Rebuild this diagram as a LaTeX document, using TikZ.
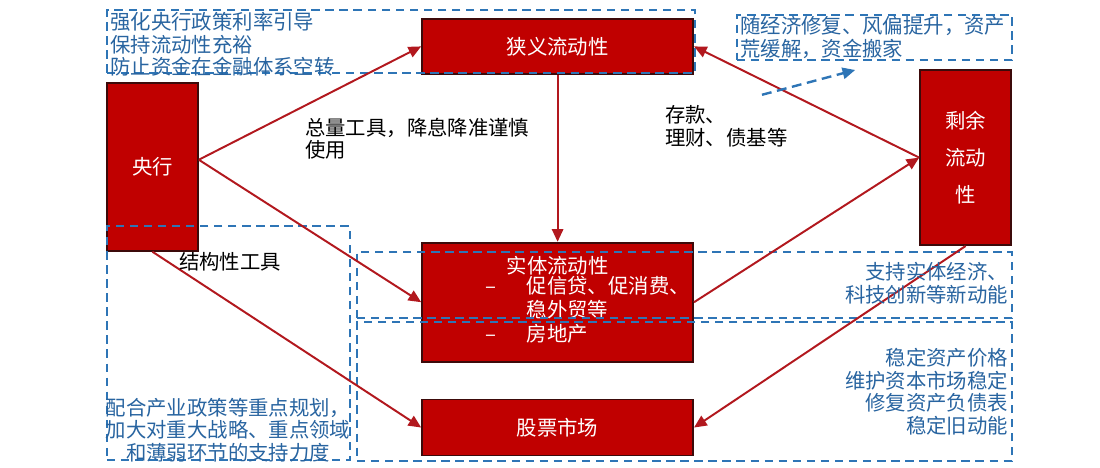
\documentclass[tikz,border=0pt]{standalone}
\usepackage{fontspec}
\setmainfont{Noto Sans CJK SC}
\usepackage{tikz}
\usetikzlibrary{arrows.meta, positioning, calc}
\usepackage{xcolor}
\definecolor{cbred}{RGB}{192,0,0}
\definecolor{cbedge}{RGB}{60,10,10}
\definecolor{cbarrow}{RGB}{178,24,30}
\definecolor{cbblue}{RGB}{46,117,182}
\definecolor{cbtext}{RGB}{40,100,160}

\begin{document}
\begin{tikzpicture}[
  font=\fontsize{14.5}{16}\selectfont,
  pool/.style={draw=cbedge, fill=cbred, text=white, line width=1.3pt,
               minimum width=6.775cm, align=center, inner sep=2pt},
  tallpool/.style={pool, minimum width=2.275cm},
  frame/.style={draw=cbblue, dash pattern=on 6pt off 4pt,
                line width=1.6pt, inner sep=0pt},
  note/.style={text=cbtext, inner sep=1pt},
  tag/.style={text=black, align=left, inner sep=0pt},
  flow/.style={-{Triangle[length=9pt,width=8pt]}, line width=1.4pt, cbarrow},
  hint/.style={-{Triangle[length=9pt,width=8pt]}, line width=1.7pt, cbblue,
               dash pattern=on 7pt off 4pt}
]
\useasboundingbox (0,0) rectangle (27.5,11.7);
% liquidity boxes
\node[pool, minimum height=1.375cm] (xy) at (13.94,10.54) {狭义流动性};
\node[pool, minimum height=2.975cm, below=4.175cm of xy] (st)
  {实体流动性\\
   \hspace*{1.5cm}\begin{tabular}{@{}l@{\hspace{1.5em}}l@{}}
     – & 促信贷、促消费、\\
       & 稳外贸等\\
     – & 房地产
   \end{tabular}};
\node[pool, minimum height=1.4cm, below=0.9cm of st] (gp) {股票市场};
\node[tallpool, minimum height=4.2cm] (yh) at (3.81,7.53) {央行};
\node[tallpool, minimum height=4.375cm, font=\fontsize{14.5}{26}\selectfont]
  (sy) at (24.14,7.76) {剩余\\流动\\性};
% dashed frames
\node[frame, minimum width=14.7cm, minimum height=1.575cm] (f1) at (10.025,10.66) {};
\node[frame, minimum width=6.875cm, minimum height=1.125cm] (f2) at (21.86,10.76) {};
\node[frame, minimum width=6.075cm, minimum height=5.85cm] (f3) at (5.71,3.125) {};
\node[frame, minimum width=16.375cm, minimum height=1.65cm] (f4) at (17.11,4.575) {};
\node[frame, minimum width=16.375cm, minimum height=3.475cm] (f5) at (17.11,1.91) {};
% arrows
\draw[flow] ([yshift=5pt]yh.east) -- (xy.west);
\draw[flow] ([yshift=5pt]yh.east) -- (st.west);
\draw[flow] (yh.south) -- (gp.west);
\draw[flow] (xy) -- (st);
\draw[flow] (st.east) -- (sy.west);
\draw[flow] (sy.west) -- (xy.east);
\draw[flow] (sy.south) -- (gp.east);
\coordinate (h0) at (19.05,9.33);
\coordinate (h1) at (21.38,9.95);
\draw[hint] (h0) -- (h1);
% notes in frames
\node[note, anchor=west, align=left] (n1) at ($(f1.west)+(0.07,-0.07)$)
  {强化央行政策利率引导\\保持流动性充裕\\防止资金在金融体系空转};
\node[note, anchor=west, align=left] (n2) at ($(f2.west)+(0.07,0)$)
  {随经济修复、风偏提升，资产\\荒缓解，资金搬家};
\node[note, align=center] (n3) at (5.7,0.95)
  {配合产业政策等重点规划，\\加大对重大战略、重点领域\\和薄弱环节的支持力度};
\node[note, anchor=east, align=right] (n4) at ($(f4.east)+(-0.08,0.05)$)
  {支持实体经济、\\科技创新等新动能};
\node[note, anchor=east, align=right] (n5) at ($(f5.east)+(-0.08,0)$)
  {稳定资产价格\\维护资本市场稳定\\修复资产负债表\\稳定旧动能};
% labels
\node[tag, anchor=west] (l1) at (7.62,8.23) {总量工具，降息降准谨慎\\使用};
\node[tag, anchor=west] (l2) at (16.62,8.54) {存款、\\理财、债基等};
\node[tag] (l3) at (5.75,5.15) {结构性工具};
\end{tikzpicture}
\end{document}
